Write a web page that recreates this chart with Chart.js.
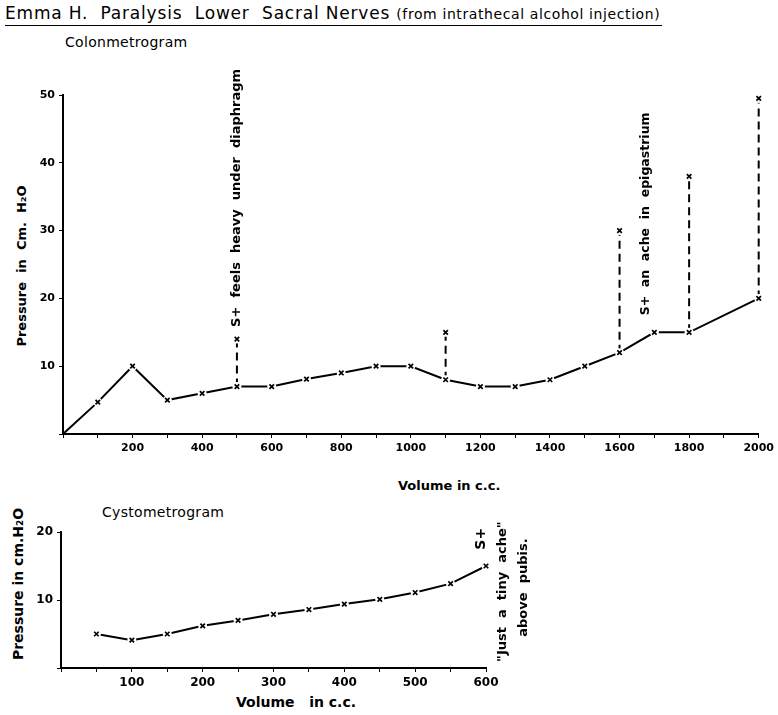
<!DOCTYPE html>
<html>
<head>
<meta charset="utf-8">
<script src="https://cdn.jsdelivr.net/npm/chart.js@4"></script>
<style>
  body { margin:0; background:#fff; width:778px; height:715px; position:relative; overflow:hidden; font-family:"DejaVu Sans", sans-serif; color:#000; }
  .lbl { position:absolute; white-space:nowrap; }
  .rot { transform: translate(-50%,-50%) rotate(-90deg); }
  canvas { position:absolute; left:0; }
</style>
</head>
<body>
<div class="lbl" style="left:5px; top:2px; font-size:17px; letter-spacing:0.8px; border-bottom:1.5px solid #000; padding-right:2px; line-height:22px;">Emma H.&nbsp; Paralysis&nbsp; Lower&nbsp; Sacral&nbsp;Nerves <span style="font-size:14px; letter-spacing:0.6px;">(from intrathecal alcohol injection)</span></div>
<div class="lbl" style="left:65px; top:34px; font-size:14px; letter-spacing:0.3px;">Colonmetrogram</div>
<div class="lbl rot" style="left:21px; top:266px; font-size:13px; font-weight:bold;">Pressure&nbsp; in&nbsp; Cm.&nbsp; H₂O</div>
<div class="lbl" style="left:398px; top:478px; font-size:13px; font-weight:bold;">Volume in c.c.</div>

<div class="lbl" style="left:102px; top:504px; font-size:14px; letter-spacing:0.3px;">Cystometrogram</div>
<div class="lbl rot" style="left:18px; top:584px; font-size:14px; font-weight:bold;">Pressure in cm.H₂O</div>
<div class="lbl" style="left:236px; top:694px; font-size:14px; font-weight:bold;">Volume&nbsp;&nbsp; in c.c.</div>

<canvas id="colon" width="778" height="470" style="top:0;"></canvas>
<canvas id="cysto" width="778" height="235" style="top:480px;"></canvas>

<script>
// Colonmetrogram (volume in c.c. -> pressure in cm H2O)
const colonVol = [0, 100, 200, 300, 400, 500, 600, 700, 800, 900, 1000, 1100, 1200, 1300, 1400, 1500, 1600, 1700, 1800, 2000];
const colonPressure = [0, 4.7, 10, 5, 6, 7, 7, 8.1, 9, 10, 10, 8, 7, 7, 8, 10, 12, 15, 15, 20];
// dashed rises (sensation readings)
const spikeVol = [500, 1100, 1600, 1800, 2000];
const spikeTop = [14, 15, 30, 38, 49.5];

// Cystometrogram
const cystoVol = [50, 100, 150, 200, 250, 300, 350, 400, 450, 500, 550, 600];
const cystoPressure = [5, 4.1, 5, 6.2, 7, 7.9, 8.6, 9.4, 10.1, 11.1, 12.4, 15];

const ink = '#000';

const verticalNotes = {
  id: 'verticalNotes',
  afterDraw(chart, args, opts) {
    const ctx = chart.ctx;
    const xs = chart.scales.x, ys = chart.scales.y;
    (opts.items || []).forEach(n => {
      ctx.save();
      ctx.translate(xs.getPixelForValue(n.x), ys.getPixelForValue(n.y));
      ctx.rotate(-Math.PI / 2);
      ctx.font = n.font;
      ctx.fillStyle = ink;
      ctx.textAlign = 'left';
      ctx.textBaseline = 'middle';
      ctx.fillText(n.text, 0, 0);
      ctx.restore();
    });
  }
};

function pts(xs, ys) { return xs.map((x, i) => ({ x: x, y: ys[i] })); }

function markerSets(points) {
  return [
    { data: points, showLine: false, pointStyle: 'circle', pointRadius: 4.5, pointBorderWidth: 0,
      pointBackgroundColor: '#fff', order: 1, clip: false },
    { data: points, showLine: false, pointStyle: 'crossRot', pointRadius: 3.2, pointBorderWidth: 1.7,
      pointBorderColor: ink, order: 0, clip: false }
  ];
}

function axes(xMax, xStep, xLbl, yMax, yStep, yW, xH, font) {
  const grid = { display: true, drawOnChartArea: false, color: ink, tickLength: 4, lineWidth: 1 };
  return {
    x: { type: 'linear', min: 0, max: xMax,
      border: { color: ink, width: 2 }, grid: grid,
      ticks: { stepSize: xStep, autoSkip: false, maxRotation: 0, color: ink, font: font, padding: 4,
        callback: v => (v > 0 && v % xLbl === 0) ? v : '' },
      afterFit: s => { s.height = xH; } },
    y: { type: 'linear', min: 0, max: yMax,
      border: { color: ink, width: 2 }, grid: grid,
      ticks: { stepSize: yStep, color: ink, font: font, padding: 4,
        callback: v => v > 0 ? v : '' },
      afterFit: s => { s.width = yW; } }
  };
}

const baseOpts = {
  responsive: false, animation: false, events: [],
  plugins: { legend: { display: false }, tooltip: { enabled: false } }
};

// ---- top chart
const colonPts = pts(colonVol, colonPressure);
const spikeSets = spikeVol.map((v, i) => ({
  data: [{ x: v, y: colonPressure[colonVol.indexOf(v)] }, { x: v, y: spikeTop[i] }],
  borderColor: ink, borderWidth: 2, borderDash: [8, 5], pointRadius: 0, order: 2, clip: false
}));
const colonMarks = colonPts.filter(p => p.x > 0).concat(pts(spikeVol, spikeTop));

new Chart(document.getElementById('colon'), {
  type: 'line',
  data: {
    datasets: [
      { data: colonPts, borderColor: ink, borderWidth: 2, pointRadius: 0, tension: 0, order: 2, clip: false },
      ...spikeSets,
      ...markerSets(colonMarks)
    ]
  },
  options: Object.assign({}, baseOpts, {
    layout: { padding: { top: 95, right: 15, left: 0, bottom: 0 } },
    scales: axes(2000, 100, 200, 50, 10, 63, 36, { family: 'DejaVu Sans', size: 11, weight: 'bold' }),
    plugins: Object.assign({}, baseOpts.plugins, {
      verticalNotes: { items: [
        { x: 500, y: 15.8, text: 'S+  feels  heavy  under  diaphragm', font: 'bold 13px "DejaVu Sans"' },
        { x: 1675, y: 17.5, text: 'S+  an  ache  in  epigastrium', font: 'bold 12.5px "DejaVu Sans"' }
      ] }
    })
  }),
  plugins: [verticalNotes]
});

// ---- bottom chart
const cystoPts = pts(cystoVol, cystoPressure);
new Chart(document.getElementById('cysto'), {
  type: 'line',
  data: {
    datasets: [
      { data: cystoPts, borderColor: ink, borderWidth: 2, pointRadius: 0, tension: 0, order: 2, clip: false },
      ...markerSets(cystoPts)
    ]
  },
  options: Object.assign({}, baseOpts, {
    layout: { padding: { top: 52, right: 292, left: 0, bottom: 0 } },
    scales: axes(600, 50, 100, 20, 10, 61, 47, { family: 'DejaVu Sans', size: 12, weight: 'bold' }),
    plugins: Object.assign({}, baseOpts.plugins, {
      verticalNotes: { items: [
        { x: 594, y: 17.4, text: 'S+', font: 'bold 14px "DejaVu Sans"' },
        { x: 624, y: 0.9, text: '"Just  a  tiny  ache"', font: 'bold 13px "DejaVu Sans"' },
        { x: 653, y: 4.6, text: 'above  pubis.', font: 'bold 13px "DejaVu Sans"' }
      ] }
    })
  }),
  plugins: [verticalNotes]
});
</script>
</body>
</html>
